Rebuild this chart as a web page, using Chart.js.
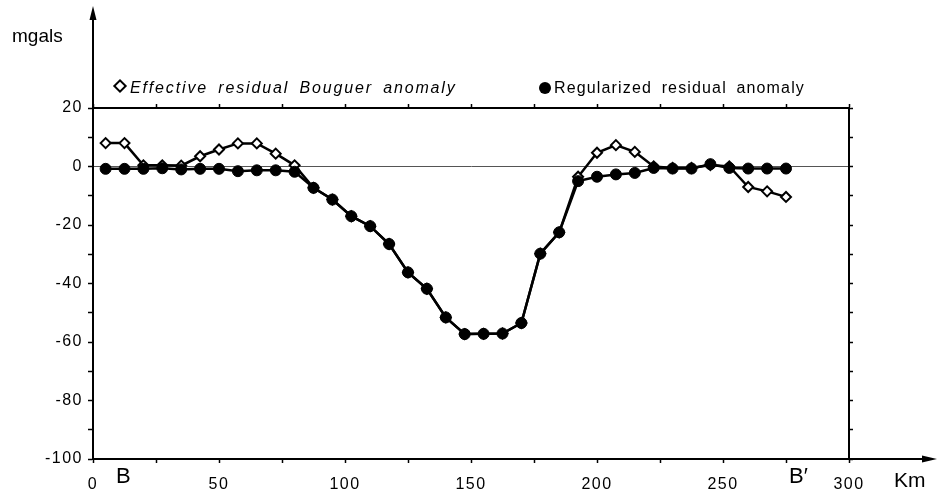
<!DOCTYPE html>
<html>
<head>
<meta charset="utf-8">
<script src="https://cdn.jsdelivr.net/npm/chart.js@4.4.0/dist/chart.umd.min.js"></script>
<style>
  body { margin: 0; background: #fff; }
  #wrap { position: relative; width: 938px; height: 498px; font-family: 'Liberation Sans', Arial, sans-serif; color: #000; }
  #grafico { position: absolute; left: 0; top: 0; }
  .txt { position: absolute; white-space: nowrap; line-height: 1; }
  .leg { font-size: 16px; word-spacing: 4px; }
  .diam { display: inline-block; width: 6px; height: 6px; border: 2px solid #000; transform: rotate(45deg); margin-right: 5px; vertical-align: 2px; }
  .bola { display: inline-block; width: 12px; height: 12px; border-radius: 50%; background: #000; margin-right: 3px; vertical-align: -1px; }
</style>
</head>
<body>
<div id="wrap">
  <canvas id="grafico" width="938" height="498"></canvas>
  <div class="txt" style="left:12px; top:26px; font-size:19px;">mgals</div>
  <div class="txt leg" style="left:115px; top:80px; font-style:italic; letter-spacing:1.85px;"><span class="diam"></span>Effective residual Bouguer anomaly</div>
  <div class="txt leg" style="left:539px; top:80px; letter-spacing:1.15px;"><span class="bola"></span>Regularized residual anomaly</div>
  <div class="txt" style="left:116px; top:465px; font-size:22px;">B</div>
  <div class="txt" style="left:789px; top:465px; font-size:22px;">B&#8242;</div>
  <div class="txt" style="left:894px; top:469px; font-size:21px;">Km</div>
</div>
<script>
// perfil B - B' (km)
const km = [5, 12.5, 20, 27.5, 35, 42.5, 50, 57.5, 65, 72.5, 80, 87.5, 95, 102.5, 110, 117.5, 125, 132.5, 140, 147.5, 155, 162.5, 170, 177.5, 185, 192.5, 200, 207.5, 215, 222.5, 230, 237.5, 245, 252.5, 260, 267.5, 275];

// anomalias em mgals
const effective = [8, 8, 0.4, 0.4, 0.3, 3.5, 5.8, 7.9, 7.9, 4.4, 0.4, -7.3, -11.3, -17, -20.4, -26.5, -36.2, -41.8, -51.6, -57.3, -57.2, -57.1, -53.5, -29.8, -22.5, -3.5, 4.7, 7.3, 5, 0, -0.5, -0.5, 0.5, 0, -7, -8.5, -10.4];
const regularized = [-0.8, -0.8, -0.8, -0.6, -1, -0.8, -0.8, -1.6, -1.3, -1.3, -1.8, -7.3, -11.3, -17, -20.4, -26.5, -36.2, -41.8, -51.6, -57.3, -57.2, -57.1, -53.5, -29.8, -22.5, -5, -3.5, -2.7, -2.2, -0.5, -0.7, -0.7, 0.8, -0.5, -0.7, -0.7, -0.7];

// eixos
const xMin = 0, xMax = 300, xStep = 25;
const xLabels = [0, 50, 100, 150, 200, 250, 300];
const yMin = -100, yMax = 20, yStep = 10;
const yLabels = [20, 0, -20, -40, -60, -80, -100];

const pontos = (ys) => km.map((x, i) => ({ x, y: ys[i] }));

// espacamento das letras dos numeros dos eixos
const espaco = {
  id: 'espaco',
  beforeDraw(chart) { chart.ctx.letterSpacing = '1.5px'; }
};

// setas dos eixos
const setas = {
  id: 'setas',
  afterDraw(chart) {
    const { ctx, chartArea } = chart;
    const { left, right, bottom } = chartArea;
    ctx.save();
    ctx.strokeStyle = '#000';
    ctx.fillStyle = '#000';
    ctx.lineWidth = 2;
    // eixo y sobe ate a seta
    ctx.beginPath();
    ctx.moveTo(left, chartArea.top);
    ctx.lineTo(left, 16);
    ctx.stroke();
    ctx.beginPath();
    ctx.moveTo(left, 6);
    ctx.lineTo(left - 3.5, 20);
    ctx.lineTo(left + 3.5, 20);
    ctx.closePath();
    ctx.fill();
    // eixo x vai ate a seta
    ctx.beginPath();
    ctx.moveTo(right, bottom);
    ctx.lineTo(926, bottom);
    ctx.stroke();
    ctx.beginPath();
    ctx.moveTo(937, bottom);
    ctx.lineTo(922, bottom - 3.5);
    ctx.lineTo(922, bottom + 3.5);
    ctx.closePath();
    ctx.fill();
    ctx.restore();
  }
};

const fonte = { family: "'Liberation Sans', Arial, sans-serif", size: 16 };

new Chart(document.getElementById('grafico'), {
  type: 'line',
  data: {
    datasets: [
      {
        label: 'Regularized residual anomaly',
        data: pontos(regularized),
        borderColor: '#000',
        borderWidth: 2.5,
        pointStyle: 'circle',
        pointRadius: 5.5,
        pointBackgroundColor: '#000',
        pointBorderColor: '#000',
        pointBorderWidth: 1,
        order: 0
      },
      {
        label: 'Effective residual Bouguer anomaly',
        data: pontos(effective),
        borderColor: '#000',
        borderWidth: 2.5,
        pointStyle: 'rectRot',
        pointRadius: 5,
        pointBackgroundColor: '#fff',
        pointBorderColor: '#000',
        pointBorderWidth: 2,
        order: 1
      }
    ]
  },
  options: {
    responsive: false,
    animation: false,
    layout: { padding: { left: 0, right: 89, top: 108, bottom: 0 } },
    plugins: { legend: { display: false }, tooltip: { enabled: false } },
    scales: {
      x: {
        type: 'linear', position: 'bottom', min: xMin, max: xMax,
        afterFit: (s) => { s.height = 39; },
        border: { display: true, color: '#000', width: 2 },
        grid: { drawOnChartArea: false, tickLength: 4, tickColor: '#000', tickWidth: 1.5 },
        ticks: {
          stepSize: xStep, color: '#000', font: fonte, padding: 12, maxRotation: 0, autoSkip: false,
          callback: (v) => xLabels.includes(v) ? String(v) : ''
        }
      },
      xTopo: {
        type: 'linear', position: 'top', min: xMin, max: xMax,
        afterFit: (s) => { s.height = 0; },
        border: { display: true, color: '#000', width: 2 },
        grid: { drawOnChartArea: false, tickLength: 4, tickColor: '#000', tickWidth: 1.5 },
        ticks: { stepSize: xStep, display: false }
      },
      y: {
        type: 'linear', position: 'left', min: yMin, max: yMax,
        afterFit: (s) => { s.width = 93; },
        border: { display: true, color: '#000', width: 2 },
        grid: {
          drawOnChartArea: true, tickLength: 5, tickColor: '#000', tickWidth: 1.5,
          color: (c) => c.tick && c.tick.value === 0 ? '#555' : 'rgba(0,0,0,0)',
          lineWidth: 1
        },
        ticks: {
          stepSize: yStep, color: '#000', font: fonte, padding: 5, autoSkip: false,
          callback: (v) => yLabels.includes(v) ? String(v) : ''
        }
      },
      yDir: {
        type: 'linear', position: 'right', min: yMin, max: yMax,
        afterFit: (s) => { s.width = 0; },
        border: { display: true, color: '#000', width: 2 },
        grid: { drawOnChartArea: false, tickLength: 4, tickColor: '#000', tickWidth: 1.5 },
        ticks: { stepSize: yStep, display: false }
      }
    }
  },
  plugins: [espaco, setas]
});
</script>
</body>
</html>
